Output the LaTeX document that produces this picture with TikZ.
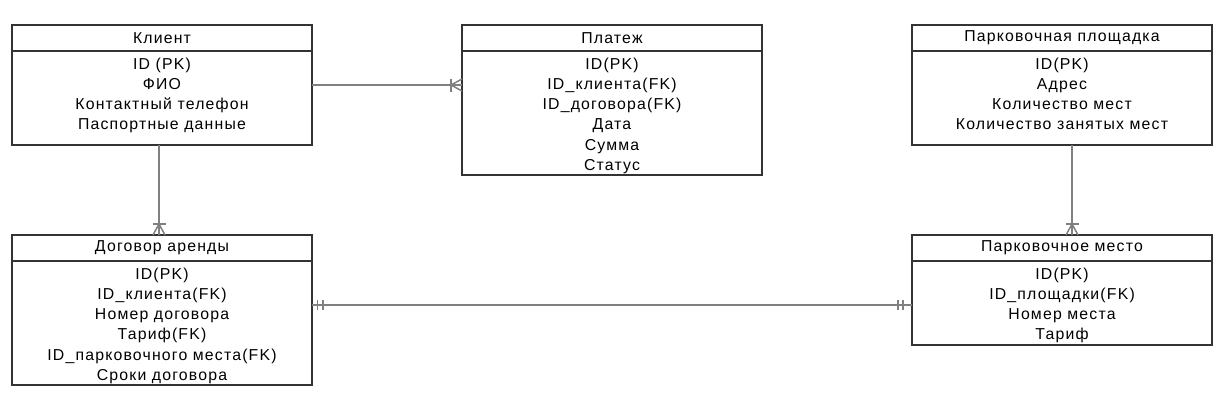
\documentclass[tikz,border=0pt]{standalone}
\usepackage{fontspec}
\setmainfont{Liberation Sans}[LetterSpace=7.5]
\usetikzlibrary{positioning, calc, decorations.markings}
\definecolor{boxColor}{HTML}{333333}
\definecolor{lineColor}{HTML}{808080}

\begin{document}
\begin{tikzpicture}[
    % Box Styles
    head/.style={
        draw=boxColor,
        line width=1.1pt,
        anchor=north west,
        minimum width=6cm,
        minimum height=0.52cm,
        inner sep=0pt,
        outer sep=0pt,
        text=black,
        font=\fontsize{9}{11.4}\selectfont
    },
    body/.style 2 args={
        head,
        align=center,
        text height=#1,
        text depth=#2
    },
    % Line Styles
    connector/.style={
        draw=lineColor,
        line width=0.85pt
    },
    tipLine/.style={
        draw=lineColor,
        line width=0.85pt
    },
    many/.style={
        postaction={decorate, decoration={markings,
            mark=at position 1 with {
                \draw[tipLine] (0,0.12) -- (-0.22,0) -- (0,-0.12);
                \draw[tipLine] (-0.22,0.13) -- (-0.22,-0.13);
            }}}
    },
    one/.style={
        postaction={decorate, decoration={markings,
            mark=at position 0 with {
                \draw[tipLine] (0.11,0.1) -- (0.11,-0.1);
                \draw[tipLine] (0.22,0.1) -- (0.22,-0.1);
            },
            mark=at position 1 with {
                \draw[tipLine] (-0.18,0.1) -- (-0.18,-0.1);
                \draw[tipLine] (-0.28,0.1) -- (-0.28,-0.1);
            }}}
    }
]

    \useasboundingbox (0,0) rectangle (24.5,-8.14);

    % --- TOP ROW ---
    \node[head] (klientH) at (0.24,-0.5) {Клиент};
    \node[body={1.577cm}{0.303cm}, below=0pt of klientH] (klientB) {ID (PK)\\ФИО\\Контактный телефон\\Паспортные данные};

    \node[head] (platezhH) at (9.24,-0.5) {Платеж};
    \node[body={2.381cm}{0.099cm}, below=0pt of platezhH] (platezhB) {ID(PK)\\ID\_клиента(FK)\\ID\_договора(FK)\\Дата\\Сумма\\Статус};

    \node[head] (ploshH) at (18.24,-0.5) {Парковочная площадка};
    \node[body={1.577cm}{0.303cm}, below=0pt of ploshH] (ploshB) {ID(PK)\\Адрес\\Количество мест\\Количество занятых мест};

    % --- BOTTOM ROW ---
    \node[head] (dogovorH) at (0.24,-4.7) {Договор аренды};
    \node[body={2.381cm}{0.099cm}, below=0pt of dogovorH] (dogovorB) {ID(PK)\\ID\_клиента(FK)\\Номер договора\\Тариф(FK)\\ID\_парковочного места(FK)\\Сроки договора};

    \node[head] (mestoH) at (18.24,-4.7) {Парковочное место};
    \node[body={1.577cm}{0.103cm}, below=0pt of mestoH] (mestoB) {ID(PK)\\ID\_площадки(FK)\\Номер места\\Тариф};

    % --- CONNECTIONS ---
    \coordinate (kp) at ([yshift=0.26cm]klientB.east);
    \draw[connector, many] (kp) -- (kp -| platezhB.west);

    \draw[connector, many] ([xshift=-0.06cm]klientB.south) -- ([xshift=-0.06cm]dogovorH.north);
    \draw[connector, many] ([xshift=0.2cm]ploshB.south) -- ([xshift=0.2cm]mestoH.north);

    \coordinate (dm) at ([yshift=-0.04cm]mestoB.west);
    \draw[connector, one] (dm -| dogovorB.east) -- (dm);

\end{tikzpicture}
\end{document}
